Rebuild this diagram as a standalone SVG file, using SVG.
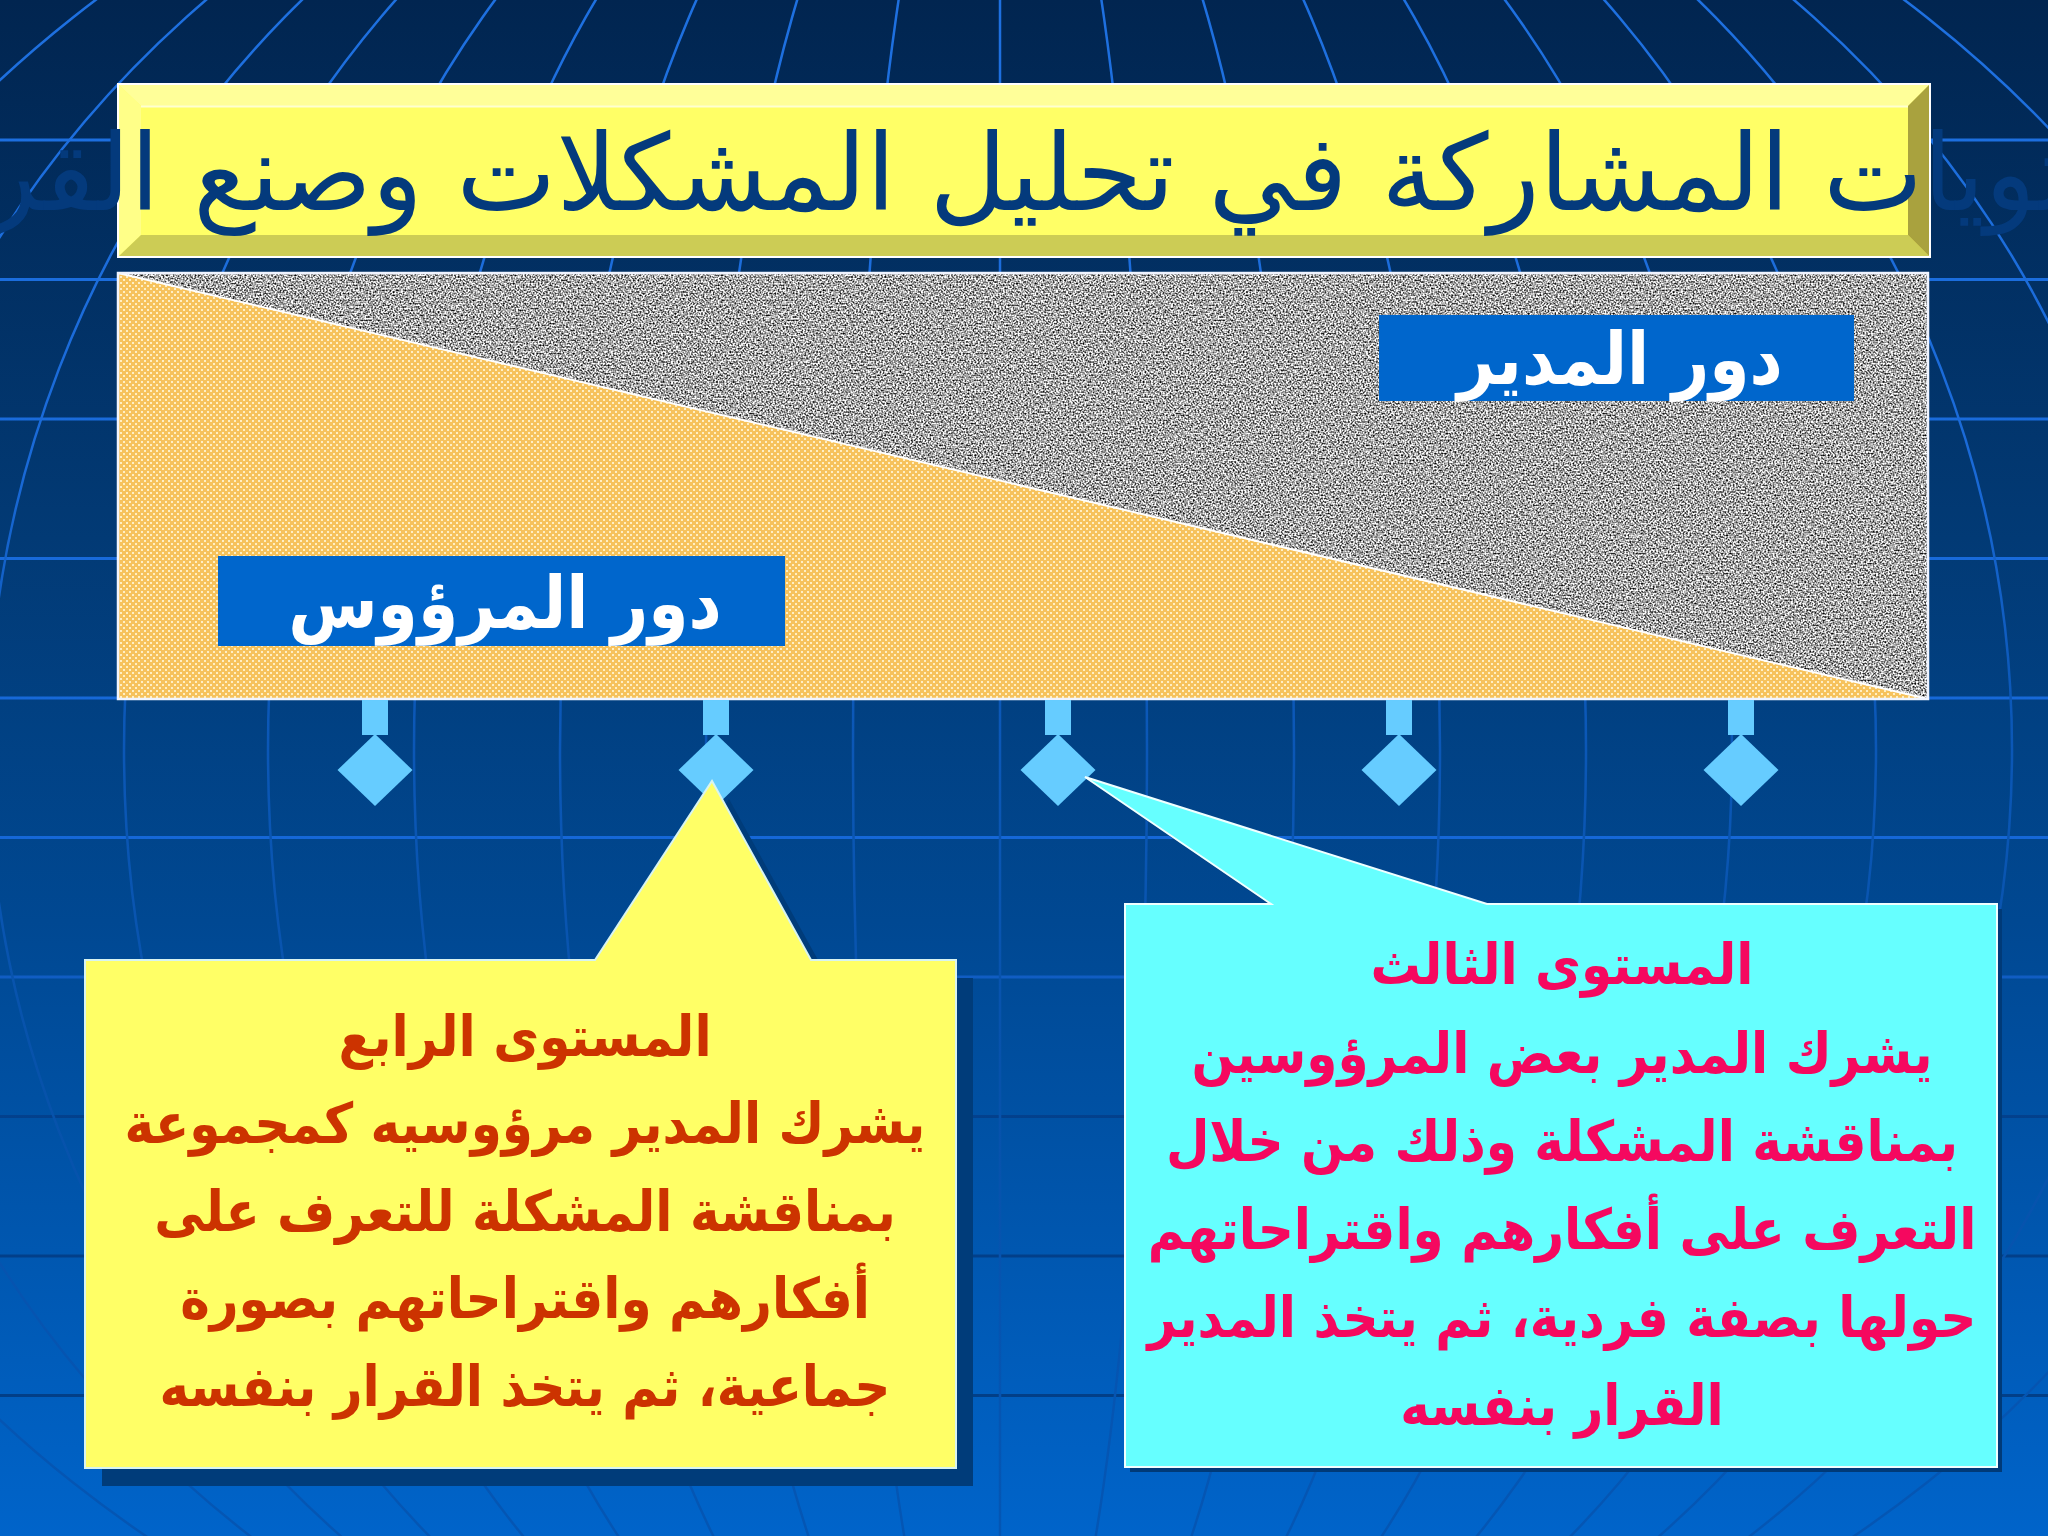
<svg xmlns="http://www.w3.org/2000/svg" width="2048" height="1536" viewBox="0 0 2048 1536">
<defs>
  <linearGradient id="bg" x1="0" y1="0" x2="0" y2="1">
    <stop offset="0" stop-color="#012550"/>
    <stop offset="0.35" stop-color="#023a75"/>
    <stop offset="0.6" stop-color="#004892"/>
    <stop offset="1" stop-color="#0064ca"/>
  </linearGradient>
  <linearGradient id="hStroke" gradientUnits="userSpaceOnUse" x1="0" y1="0" x2="0" y2="1536">
    <stop offset="0" stop-color="#1e70e0"/>
    <stop offset="0.6" stop-color="#1466d6"/>
    <stop offset="0.69" stop-color="#0b4fa6"/>
    <stop offset="0.73" stop-color="#023f8a"/>
    <stop offset="1" stop-color="#023f86"/>
  </linearGradient>
  <linearGradient id="mStroke" gradientUnits="userSpaceOnUse" x1="0" y1="0" x2="0" y2="1536">
    <stop offset="0" stop-color="#1e70e0"/>
    <stop offset="0.3" stop-color="#1a6ad8"/>
    <stop offset="0.45" stop-color="#0c58b8"/>
    <stop offset="0.7" stop-color="#0752aa"/>
    <stop offset="0.85" stop-color="#0654b0"/>
    <stop offset="1" stop-color="#0456b4"/>
  </linearGradient>
  <pattern id="dots" width="6" height="6" patternUnits="userSpaceOnUse">
    <rect width="6" height="6" fill="#F6C25C"/>
    <rect x="0" y="0" width="2" height="2" fill="#FFEFC4"/>
    <rect x="3" y="3" width="2" height="2" fill="#FFEFC4"/>
  </pattern>
  <filter id="noise" x="0" y="0" width="100%" height="100%" color-interpolation-filters="sRGB">
    <feTurbulence type="fractalNoise" baseFrequency="0.6" numOctaves="1" seed="7" result="t"/>
    <feColorMatrix in="t" type="matrix" values="2.4 0 0 0 -0.55  2.4 0 0 0 -0.55  2.4 0 0 0 -0.55  0 0 0 0 1"/>
  </filter>
  <clipPath id="greyClip">
    <polygon points="118,273 1928,273 1928,699"/>
  </clipPath>
  <style>
    .h { fill: none; stroke: url(#hStroke); stroke-width: 3; }
    .m { fill: none; stroke: url(#mStroke); stroke-width: 2.5; }
    .marker { fill: #66CCFF; }
    .lbl { fill: #0066CC; }
    .lbltxt { font-family: "DejaVu Sans", "Liberation Sans", sans-serif; font-weight: bold; font-size: 72px; fill: #FFFFFF; text-anchor: middle; }
    .ytxt { font-family: "DejaVu Sans", "Liberation Sans", sans-serif; font-weight: bold; font-size: 56px; fill: #CC3300; text-anchor: middle; }
    .ctxt { font-family: "DejaVu Sans", "Liberation Sans", sans-serif; font-weight: bold; font-size: 56px; fill: #F5085F; text-anchor: middle; }
    .title { font-family: "DejaVu Sans", "Noto Sans", sans-serif; font-size: 106px; fill: #043a7c; text-anchor: middle; }
  </style>
</defs>

<!-- background -->
<rect x="0" y="0" width="2048" height="1536" fill="url(#bg)"/>
<g id="background-grid">
  <line class="h" x1="0" y1="140" x2="2048" y2="140"/>
  <line class="h" x1="0" y1="279.5" x2="2048" y2="279.5"/>
  <line class="h" x1="0" y1="419" x2="2048" y2="419"/>
  <line class="h" x1="0" y1="558.5" x2="2048" y2="558.5"/>
  <line class="h" x1="0" y1="698" x2="2048" y2="698"/>
  <line class="h" x1="0" y1="837.5" x2="2048" y2="837.5"/>
  <line class="h" x1="0" y1="977" x2="2048" y2="977"/>
  <line class="h" x1="0" y1="1116.5" x2="2048" y2="1116.5"/>
  <line class="h" x1="0" y1="1256" x2="2048" y2="1256"/>
  <line class="h" x1="0" y1="1395.5" x2="2048" y2="1395.5"/>
  <line class="m" x1="1000" y1="0" x2="1000" y2="1536"/>
  <ellipse class="m" cx="1000" cy="750" rx="147" ry="1036"/>
  <ellipse class="m" cx="1000" cy="750" rx="294" ry="1036"/>
  <ellipse class="m" cx="1000" cy="750" rx="440" ry="1036"/>
  <ellipse class="m" cx="1000" cy="750" rx="586" ry="1036"/>
  <ellipse class="m" cx="1000" cy="750" rx="732" ry="1036"/>
  <ellipse class="m" cx="1000" cy="750" rx="876" ry="1036"/>
  <ellipse class="m" cx="1000" cy="750" rx="1012" ry="1036"/>
  <ellipse class="m" cx="1000" cy="750" rx="1151" ry="1036"/>
  <ellipse class="m" cx="1000" cy="750" rx="1311" ry="1036"/>
</g>

<!-- title -->
<g id="title">
  <rect x="118" y="84" width="1812" height="173" fill="#FFFF66"/>
  <polygon points="118,84 1930,84 1908,106 141,106" fill="#FFFF99"/>
  <polygon points="118,84 141,106 141,235 118,257" fill="#FFFF88"/>
  <polygon points="118,257 141,235 1908,235 1930,257" fill="#CCCC55"/>
  <polygon points="1930,84 1930,257 1908,235 1908,106" fill="#A9A23E"/>
  <rect x="141" y="106" width="1767" height="129" fill="#FFFF66"/>
  <line x1="141" y1="106.5" x2="1908" y2="106.5" stroke="#FFFFD0" stroke-width="2"/>
  <rect x="118" y="84" width="1812" height="173" fill="none" stroke="#FFFFFF" stroke-width="2"/>
  <text class="title" x="1064" y="210">مستويات المشاركة في تحليل المشكلات وصنع القرار</text>
</g>

<!-- panel -->
<g id="role-panel">
  <polygon points="118,273 118,699 1928,699" fill="url(#dots)"/>
  <g clip-path="url(#greyClip)">
    <rect x="118" y="273" width="1810" height="426" fill="#999" filter="url(#noise)"/>
  </g>
  <line x1="118" y1="273" x2="1928" y2="699" stroke="#FFFFFF" stroke-width="2"/>
  <rect x="118" y="273" width="1810" height="426" fill="none" stroke="#F0F4FF" stroke-width="2.5"/>
</g>

<g id="label-manager">
  <rect class="lbl" x="1379" y="315" width="475" height="86"/>
  <text class="lbltxt" transform="translate(1620,384) scale(0.9,1)" x="0" y="0">دور المدير</text>
</g>

<g id="label-subordinate">
  <rect class="lbl" x="218" y="556" width="567" height="90"/>
  <text class="lbltxt" transform="translate(505,628) scale(0.9,1)" x="0" y="0">دور المرؤوس</text>
</g>

<!-- scale markers -->
<g id="connectors">
  <rect class="marker" x="362" y="700" width="26" height="35"/>
  <rect class="marker" x="703" y="700" width="26" height="35"/>
  <rect class="marker" x="1045" y="700" width="26" height="35"/>
  <rect class="marker" x="1386" y="700" width="26" height="35"/>
  <rect class="marker" x="1728" y="700" width="26" height="35"/>
</g>
<g id="marker-1"><polygon class="marker" points="375,734 412.5,770 375,806 337.5,770"/></g>
<g id="marker-2"><polygon class="marker" points="716,734 753.5,770 716,806 678.5,770"/></g>
<g id="marker-3"><polygon class="marker" points="1058,734 1095.5,770 1058,806 1020.5,770"/></g>
<g id="marker-4"><polygon class="marker" points="1399,734 1436.5,770 1399,806 1361.5,770"/></g>
<g id="marker-5"><polygon class="marker" points="1741,734 1778.5,770 1741,806 1703.5,770"/></g>

<!-- level 4 callout -->
<g id="callout-level4">
  <polygon points="102,978 612,978 729,799 828,978 973,978 973,1486 102,1486" fill="#003C7A"/>
  <polygon points="85,960 595,960 712,781 811,960 956,960 956,1468 85,1468" fill="#FFFF66" stroke="#D8F4F0" stroke-width="2"/>
  <g transform="translate(525,0) scale(0.895,1)">
    <text class="ytxt" x="0" y="1056">المستوى الرابع</text>
    <text class="ytxt" x="0" y="1143">يشرك المدير مرؤوسيه كمجموعة</text>
    <text class="ytxt" x="0" y="1231">بمناقشة المشكلة للتعرف على</text>
    <text class="ytxt" x="0" y="1318">أفكارهم واقتراحاتهم بصورة</text>
    <text class="ytxt" x="0" y="1406">جماعية، ثم يتخذ القرار بنفسه</text>
  </g>
</g>

<!-- level 3 callout -->
<g id="callout-level3">
  <polygon points="1130,909 1276,909 1090,782 1492,909 2002,909 2002,1472 1130,1472" fill="#003A78"/>
  <polygon points="1125,904 1271,904 1085,777 1487,904 1997,904 1997,1467 1125,1467" fill="#66FFFF" stroke="#F0FFFF" stroke-width="2"/>
  <g transform="translate(1562,0) scale(0.895,1)">
    <text class="ctxt" x="0" y="984">المستوى الثالث</text>
    <text class="ctxt" x="0" y="1073">يشرك المدير بعض المرؤوسين</text>
    <text class="ctxt" x="0" y="1161">بمناقشة المشكلة وذلك من خلال</text>
    <text class="ctxt" x="0" y="1249">التعرف على أفكارهم واقتراحاتهم</text>
    <text class="ctxt" x="0" y="1337">حولها بصفة فردية، ثم يتخذ المدير</text>
    <text class="ctxt" x="0" y="1425">القرار بنفسه</text>
  </g>
</g>
</svg>
